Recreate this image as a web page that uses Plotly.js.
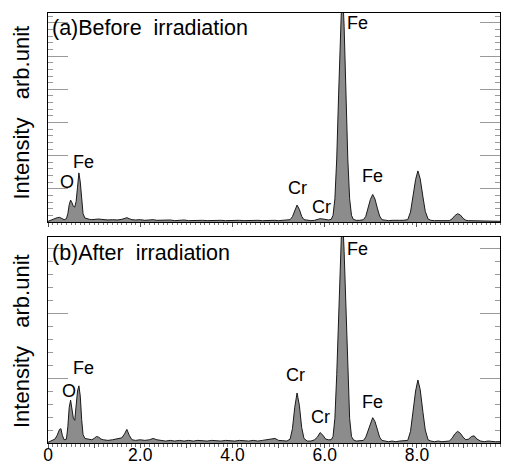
<!DOCTYPE html>
<html>
<head>
<meta charset="utf-8">
<script src="https://cdn.plot.ly/plotly-3.0.1.min.js"></script>
<style>html,body{margin:0;padding:0;background:#fff;}#chart{width:505px;height:466px;}</style>
</head>
<body>
<div id="chart"></div>
<script>
// Photon energy (keV), shared grid for both spectra
const energy = [
  0.00,0.05,0.10,0.15,0.20,0.25,0.28,0.31,0.35,0.40,0.43,0.46,0.49,0.52,0.55,0.58,0.61,0.64,0.67,0.70,0.73,0.76,0.80,0.85,0.90,
  0.95,1.00,1.05,1.10,1.15,1.20,1.30,1.40,1.50,1.60,1.66,1.71,1.76,1.82,1.90,2.00,2.10,2.20,2.28,2.36,2.45,2.55,2.65,2.75,2.85,
  2.95,3.05,3.15,3.25,3.35,3.45,3.55,3.65,3.75,3.85,3.95,4.05,4.15,4.25,4.35,4.45,4.55,4.65,4.75,4.85,4.92,5.00,5.10,5.18,
  5.25,5.30,5.35,5.40,5.45,5.50,5.55,
  5.62,5.70,5.78,5.84,5.90,5.96,6.02,6.08,
  6.14,6.18,6.22,6.26,6.30,6.34,6.38,6.42,6.46,6.50,6.54,6.58,6.62,6.68,6.76,
  6.84,6.89,6.94,6.99,7.04,7.09,7.14,7.19,7.24,
  7.30,7.38,7.46,7.54,7.62,7.70,
  7.80,7.86,7.91,7.97,8.02,8.07,8.13,8.18,8.24,
  8.30,8.38,8.46,8.54,8.62,
  8.70,8.76,8.82,8.88,8.94,9.00,9.06,9.12,9.18,9.24,9.30,
  9.38,9.46,9.54,9.62,9.70,9.80
];
// (a) Before irradiation, intensity (arb. unit)
const intensityBefore = [
  0.02,0.05,0.07,0.10,0.13,0.14,0.12,0.09,0.07,0.10,0.25,0.52,0.66,0.58,0.47,0.45,0.62,1.05,1.48,1.20,0.62,0.25,0.12,0.09,0.08,
  0.07,0.08,0.07,0.09,0.08,0.07,0.06,0.07,0.06,0.08,0.10,0.13,0.10,0.07,0.06,0.07,0.05,0.06,0.07,0.05,0.06,0.05,0.06,0.04,0.05,
  0.06,0.04,0.05,0.04,0.05,0.04,0.05,0.04,0.05,0.04,0.05,0.04,0.05,0.04,0.05,0.04,0.05,0.04,0.05,0.04,0.05,0.04,0.05,0.05,
  0.07,0.16,0.37,0.51,0.38,0.17,0.07,
  0.05,0.04,0.05,0.07,0.10,0.09,0.07,0.06,
  0.08,0.20,0.70,1.90,3.80,5.90,7.20,5.90,3.80,1.90,0.70,0.20,0.08,0.05,0.05,
  0.07,0.17,0.40,0.68,0.83,0.69,0.42,0.18,0.07,
  0.05,0.04,0.05,0.04,0.05,0.05,
  0.07,0.30,0.72,1.28,1.54,1.30,0.75,0.32,0.09,
  0.05,0.04,0.04,0.03,0.04,
  0.04,0.09,0.19,0.25,0.21,0.11,0.05,0.04,0.04,0.03,0.03,
  0.03,0.02,0.03,0.02,0.03,0.02
];
// (b) After irradiation, intensity (arb. unit)
const intensityAfter = [
  0.01,0.03,0.04,0.06,0.12,0.21,0.22,0.12,0.05,0.06,0.25,0.55,0.66,0.55,0.38,0.35,0.55,0.80,0.88,0.72,0.36,0.13,0.07,0.06,0.05,
  0.05,0.07,0.10,0.09,0.06,0.05,0.04,0.05,0.06,0.08,0.14,0.21,0.12,0.05,0.04,0.05,0.04,0.05,0.07,0.05,0.04,0.03,0.04,0.03,0.04,
  0.03,0.04,0.03,0.04,0.03,0.03,0.04,0.03,0.03,0.04,0.03,0.03,0.04,0.03,0.03,0.04,0.03,0.04,0.05,0.06,0.07,0.04,0.03,0.03,
  0.06,0.22,0.55,0.77,0.58,0.24,0.07,
  0.03,0.03,0.05,0.09,0.16,0.12,0.06,0.05,
  0.05,0.10,0.38,1.05,2.00,2.95,3.60,2.95,2.00,1.05,0.38,0.10,0.05,0.03,0.04,
  0.04,0.09,0.19,0.32,0.39,0.33,0.20,0.09,0.04,
  0.03,0.02,0.03,0.02,0.03,0.03,
  0.04,0.18,0.45,0.80,0.97,0.82,0.47,0.20,0.05,
  0.03,0.02,0.03,0.02,0.03,
  0.03,0.07,0.14,0.18,0.15,0.09,0.05,0.06,0.10,0.11,0.06,
  0.03,0.02,0.03,0.02,0.02,0.02
];
// Tick labels for energy axis
const tickValues = [0,1,2,3,4,5,6,7,8,9];
const tickLabels = ['0','','2.0','','4.0','','6.0','','8.0',''];
// Panel titles and peak labels
const panelTitles = ['(a)Before\u00a0 irradiation', '(b)After\u00a0 irradiation'];
const peakLabels = ['O','Fe','Cr','Cr','Fe','Fe'];
const peakLabelXBefore = [0.42,0.78,5.40,5.94,6.70,7.03];
const peakLabelYBefore = [1.20,1.81,1.02,0.45,5.99,1.39];
const peakLabelXAfter  = [0.46,0.77,5.37,5.91,6.70,7.03];
const peakLabelYAfter  = [0.80,1.15,1.05,0.40,2.98,0.63];

const FONT = 'Liberation Sans, Arial, sans-serif';
const lineCol = '#1a1a1a', fillCol = '#8c8c8c';

const traces = [
  {x: energy, y: intensityBefore, xaxis: 'x', yaxis: 'y', type: 'scatter', mode: 'lines',
   fill: 'tozeroy', fillcolor: fillCol, line: {color: lineCol, width: 1}, hoverinfo: 'skip'},
  {x: energy, y: intensityAfter, xaxis: 'x2', yaxis: 'y2', type: 'scatter', mode: 'lines',
   fill: 'tozeroy', fillcolor: fillCol, line: {color: lineCol, width: 1}, hoverinfo: 'skip'}
];

function xAxis(anchor, labels, side, ticks, overlay, match) {
  const a = {
    anchor: anchor, range: [0, 9.8], side: side,
    tickmode: 'array', tickvals: tickValues, ticktext: tickLabels,
    showticklabels: labels, ticks: ticks, ticklen: 4, tickcolor: '#555', tickwidth: 1,
    minor: {ticks: ticks, ticklen: 2.5, dtick: 0.1, tick0: 0, tickcolor: '#777', tickwidth: 1},
    showline: true, linecolor: '#000', linewidth: 1, mirror: overlay ? false : true,
    showgrid: false, zeroline: false, ticklabelstandoff: -8,
    tickfont: {family: FONT, size: 17.5, color: '#000'}
  };
  if (overlay) { a.overlaying = overlay; a.matches = match; }
  return a;
}
function yAxis(domain, top) {
  return {
    domain: domain, range: [0, top], anchor: 'x' , tick0: 0, dtick: 1,
    ticks: 'inside', ticklen: 20, tickcolor: '#9a9a9a', tickwidth: 1,
    minor: {ticks: 'inside', ticklen: 5, dtick: 0.2, tick0: 0, tickcolor: '#9a9a9a', tickwidth: 1},
    showticklabels: false, showline: true, linecolor: '#000', linewidth: 1, mirror: 'ticks',
    showgrid: false, zeroline: false
  };
}

const annotations = [];
function addPanel(xref, yref, title, titleY, xs, ys, labelY) {
  annotations.push({text: title, xref: 'paper', x: 0.004, xanchor: 'left', yref: yref, y: titleY,
    yanchor: 'middle', showarrow: false, font: {family: FONT, size: 21.5, color: '#000'}});
  peakLabels.forEach((t, i) => annotations.push({text: t, xref: xref, yref: yref, x: xs[i], y: ys[i],
    xanchor: 'center', yanchor: 'middle', showarrow: false, font: {family: FONT, size: 18, color: '#000'}}));
  annotations.push({text: 'Intensity\u00a0\u00a0\u00a0arb.unit', xref: 'paper', x: -0.0575, xanchor: 'center',
    yref: yref, y: labelY, yanchor: 'middle', textangle: -90, showarrow: false,
    font: {family: FONT, size: 22, color: '#000'}});
}
addPanel('x', 'y', panelTitles[0], 5.84, peakLabelXBefore, peakLabelYBefore, 3.30);
addPanel('x2', 'y2', panelTitles[1], 2.92, peakLabelXAfter, peakLabelYAfter, 1.57);

const ya = yAxis([0.514, 1], 6.3); ya.anchor = 'x';
const yb = yAxis([0, 0.479], 3.17); yb.anchor = 'x2';

const layout = {
  width: 505, height: 466,
  margin: {l: 48, r: 5, t: 13, b: 23, pad: 0},
  paper_bgcolor: '#fff', plot_bgcolor: '#fff', showlegend: false,
  font: {family: FONT, color: '#000'},
  xaxis: xAxis('y', false, 'bottom', 'outside'),
  xaxis2: xAxis('y2', true, 'bottom', 'outside'),
  xaxis3: xAxis('y', false, 'top', 'inside', 'x', 'x'),
  xaxis4: xAxis('y2', false, 'top', 'inside', 'x2', 'x2'),
  yaxis: ya, yaxis2: yb,
  annotations: annotations
};
layout.xaxis2.matches = 'x';

Plotly.newPlot('chart', traces, layout, {staticPlot: true, displayModeBar: false});
</script>
</body>
</html>
